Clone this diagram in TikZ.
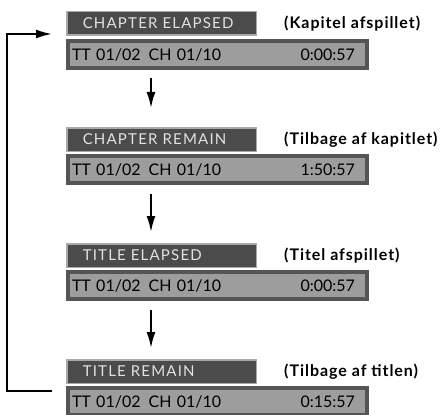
\documentclass[tikz,border=0pt]{standalone}
\usepackage{fontspec}
\setmainfont{Lato}
\newfontfamily\modefont[LetterSpace=8]{Lato}
\newfontfamily\notefont[LetterSpace=6]{Lato}
\definecolor{dvdmode}{HTML}{4B4B4B}
\definecolor{dvdedge}{HTML}{A9A9A9}
\definecolor{dvdtext}{HTML}{E2E2E2}
\definecolor{dvdbar}{HTML}{9D9D9D}
\definecolor{dvdframe}{HTML}{555555}
\usepackage{tikz}
\usetikzlibrary{arrows.meta, positioning}

\begin{document}
\begin{tikzpicture}[x=1pt, y=-1pt,
  mode/.style={anchor=north west, draw=dvdedge, line width=1.5pt, fill=dvdmode,
               text=dvdtext, minimum height=23.5pt, text width=157.5pt,
               inner xsep=16pt, inner ysep=0pt, align=left,
               font=\modefont\fontsize{15}{17}\selectfont},
  readout/.style={draw=dvdframe, line width=4pt, fill=dvdbar, minimum height=27pt,
                  text width=291pt, inner xsep=4pt, inner ysep=0pt, align=left,
                  font=\fontsize{16}{18}\selectfont},
  note/.style={inner sep=0pt, font=\notefont\bfseries\fontsize{16}{18}\selectfont},
  flow/.style={-{Latex[length=16pt, width=9pt]}, line width=2pt},
]
  \useasboundingbox (0,0) rectangle (443,414);

  % mode headers
  \node[mode] (ce) at (66,11) {CHAPTER ELAPSED};
  \node[mode] (cr) at (66,127) {CHAPTER REMAIN};
  \node[mode] (te) at (66,243) {TITLE ELAPSED};
  \node[mode] (tr) at (66,359) {TITLE REMAIN};

  % readouts
  \node[readout, below=3pt of ce.south west, anchor=north west] (ceb)
    {TT 01/02\hspace{8pt}CH 01/10\hfill 0:00:57\kern8pt};
  \node[readout, below=2pt of cr.south west, anchor=north west] (crb)
    {TT 01/02\hspace{8pt}CH 01/10\hfill 1:50:57\kern8pt};
  \node[readout, below=2pt of te.south west, anchor=north west] (teb)
    {TT 01/02\hspace{8pt}CH 01/10\hfill 0:00:57\kern8pt};
  \node[readout, below=2pt of tr.south west, anchor=north west] (trb)
    {TT 01/02\hspace{8pt}CH 01/10\hfill 0:15:57\kern8pt};

  % danish notes
  \node[note, right=27pt of ce] (cen) {(Kapitel afspillet)};
  \node[note, right=27pt of cr] (crn) {(Tilbage af kapitlet)};
  \node[note, right=27pt of te] (ten) {(Titel afspillet)};
  \node[note, right=27pt of tr] (trn) {(Tilbage af titlen)};

  \draw[flow, shorten <=8pt, shorten >=19pt] ([xshift=85pt]ceb.south west) -- ([xshift=85pt]cr.north west);
  \draw[flow, shorten <=9pt, shorten >=11pt] ([xshift=85pt]crb.south west) -- ([xshift=85pt]te.north west);
  \draw[flow, shorten <=9pt, shorten >=11pt] ([xshift=85pt]teb.south west) -- ([xshift=85pt]tr.north west);
  \draw[flow] ([xshift=-14pt, yshift=-7pt]tr.south west) -- ++(-45,0)
    |- ([xshift=-14pt, yshift=2pt]ce.south west);
\end{tikzpicture}
\end{document}
